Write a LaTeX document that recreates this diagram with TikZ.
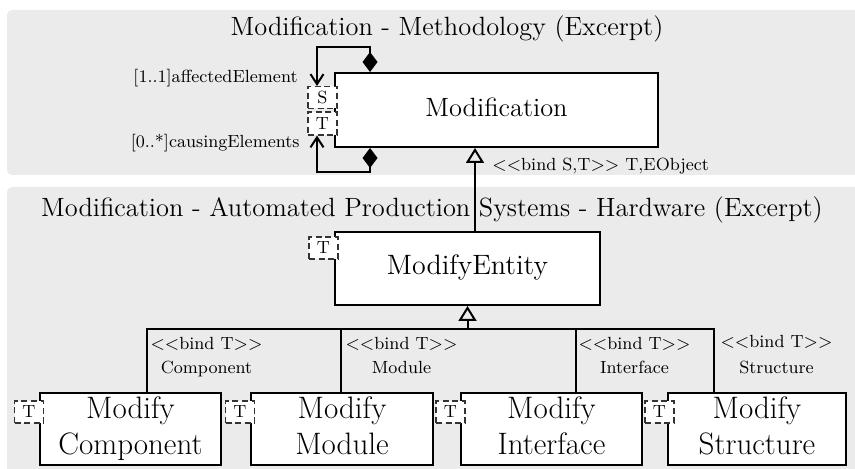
\documentclass[tikz,border=0pt]{standalone}
\usepackage{fontspec}
\usetikzlibrary{arrows.meta}
\definecolor{panelgray}{RGB}{235,235,235}
\begin{document}
\begin{tikzpicture}[x=0.5pt,y=-0.5pt,
  panel/.style={fill=panelgray, draw=none, rounded corners=2.5pt},
  umlbox/.style={draw, line width=1pt, fill=white, inner sep=0pt, align=center},
  tagbox/.style={draw=black!80, dash pattern=on 3pt off 1.8pt, line width=0.55pt, fill=white, minimum width=14.5pt, minimum height=11pt, inner sep=0pt, font=\fontsize{8.8}{10}\selectfont},
  conn/.style={line width=1pt},
  lbl/.style={font=\fontsize{8.8}{10}\selectfont, inner sep=0pt},
  ttl/.style={font=\fontsize{13.2}{16}\selectfont, inner sep=0pt},
  tri/.style={-{Triangle[open, length=7.5pt, width=9pt]}}
]
\useasboundingbox (0,0) rectangle (855,469);
\fill[panel] (7,10) rectangle (870,175);
\fill[panel] (7,187) rectangle (870,490);

\node[ttl, anchor=base] (t1) at (447,36) {Modification - Methodology (Excerpt)};
\node[ttl, anchor=base] (t2) at (432,217) {Modification - Automated Production Systems - Hardware (Excerpt)};

% boxes
\node[umlbox, minimum width=161.5pt, minimum height=37pt, font=\fontsize{13.2}{16}\selectfont] (mod) at (496.5,110) {\strut Modification};
\node[umlbox, minimum width=132.5pt, minimum height=36.5pt, font=\fontsize{14}{16}\selectfont] (ent) at (467.5,268.5) {\strut ModifyEntity};
\node[umlbox, minimum width=90.5pt, minimum height=36pt, font=\fontsize{15.5}{18}\selectfont] (comp) at (130.5,429) {\strut Modify\\\strut Component};
\node[umlbox, minimum width=91pt, minimum height=36pt, font=\fontsize{15.5}{18}\selectfont] (modu) at (342,429) {\strut Modify\\\strut Module};
\node[umlbox, minimum width=90.5pt, minimum height=36pt, font=\fontsize{15.5}{18}\selectfont] (iface) at (551.5,429) {\strut Modify\\\strut Interface};
\node[umlbox, minimum width=89pt, minimum height=36pt, font=\fontsize{15.5}{18}\selectfont] (struct) at (757,429) {\strut Modify\\\strut Structure};

% template tags
\node[tagbox] (s) at (322.5,97.5) {S};
\node[tagbox, minimum height=11.5pt] (t) at (322.5,123.5) {T};
\node[tagbox] (et) at (323.5,248) {T};
\node[tagbox] (ct) at (29,412) {T};
\node[tagbox] (mt) at (240,412) {T};
\node[tagbox] (it) at (450.5,412) {T};
\node[tagbox] (st) at (659.5,412) {T};

% self associations
\coordinate (x370) at (370,0);
\coordinate (lt) at (317,47);
\coordinate (lb) at (317,172);
\draw[conn, {Diamond[length=10pt,width=7.5pt]}-{Straight Barb[length=5pt,width=6.5pt]}] (mod.north -| x370) |- (lt) -- (s.north -| lt);
\draw[conn, {Diamond[length=10pt,width=7.5pt]}-{Straight Barb[length=5pt,width=6.5pt]}] (mod.south -| x370) |- (lb) -- (t.south -| lb);
\node[lbl, anchor=base east] (ae) at (298,83) {[1..1]affectedElement};
\node[lbl, anchor=base east] (ce) at (300,148) {[0..*]causingElements};

% inheritance 1
\coordinate (x475) at (475,0);
\draw[conn, tri] (ent.north -| x475) -- (mod.south -| x475);
\node[lbl, anchor=base west] (bst) at (492,171) {$<<$bind S,T$>>$ T,EObject};

% inheritance 2
\coordinate (b1) at (147,329);
\coordinate (b2) at (341,329);
\coordinate (b3) at (576,329);
\coordinate (b4) at (714,329);
\coordinate (bm) at (467.5,329);
\draw[conn] (comp.north -| b1) -- (b1) -- (b4) -- (struct.north -| b4);
\draw[conn] (b2) -- (modu.north -| b2);
\draw[conn] (b3) -- (iface.north -| b3);
\draw[conn, tri] (bm) -- (ent.south);

\node[lbl, anchor=base] (l1a) at (206.5,350) {$<<$bind T$>>$};
\node[lbl, anchor=base] (l1b) at (206.5,374) {Component};
\node[lbl, anchor=base] (l2a) at (401.5,350) {$<<$bind T$>>$};
\node[lbl, anchor=base] (l2b) at (401.5,374) {Module};
\node[lbl, anchor=base] (l3a) at (634.5,350) {$<<$bind T$>>$};
\node[lbl, anchor=base] (l3b) at (634.5,374) {Interface};
\node[lbl, anchor=base] (l4a) at (776.5,348) {$<<$bind T$>>$};
\node[lbl, anchor=base] (l4b) at (776.5,373) {Structure};
\end{tikzpicture}
\end{document}
